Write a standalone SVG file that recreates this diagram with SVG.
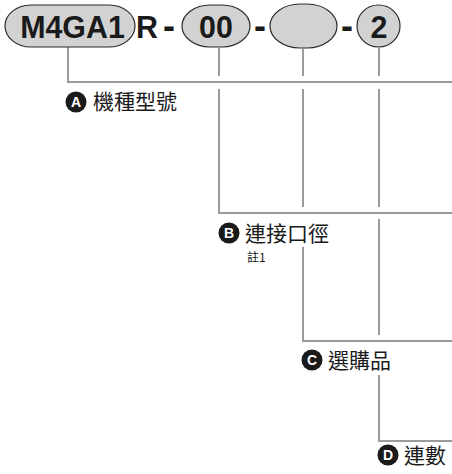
<svg xmlns="http://www.w3.org/2000/svg" width="452" height="474" viewBox="0 0 452 474">
<style>
.pill{fill:#d2d2d2;stroke:#2a2a2a;stroke-width:1.2}
.code{font-family:"Liberation Sans",Arial,sans-serif;font-weight:bold;font-size:32px;fill:#1a1a1a;text-anchor:middle}
.dash{font-family:"Liberation Sans",Arial,sans-serif;font-weight:bold;font-size:36px;fill:#1a1a1a;text-anchor:middle}
.ln{stroke:#9b9b9b;stroke-width:2;fill:none}
.lbl{font-family:"Noto Sans CJK TC","Noto Sans",sans-serif;font-size:21px;fill:#1a1a1a}
.note{font-family:"Noto Sans CJK TC","Noto Sans",sans-serif;font-size:12px;fill:#1a1a1a}
.badge{fill:#1a1a1a}
.bl{font-family:"Liberation Sans",Arial,sans-serif;font-weight:bold;font-size:14px;fill:#fff;text-anchor:middle}
</style>
<g id="connectors">
<path class="ln" d="M68,47 V82 H452"/>
<path class="ln" d="M219,48 V76 M219,89 V213 H452"/>
<path class="ln" d="M303,49 V76 M303,89 V207 M303,247 V341 H452"/>
<path class="ln" d="M379,48 V76 M379,89 V207 M379,219 V335 M379,375 V441 H452"/>
</g>
<g id="code">
<g id="seg-model"><rect class="pill" x="5" y="5" width="130" height="42" rx="26" ry="21"/><text class="code" transform="translate(72.5,37.5) scale(0.95,1)">M4GA1</text></g>
<text class="code" transform="translate(147,37.5) scale(0.95,1)">R</text>
<text class="dash" x="169" y="38">-</text>
<g id="seg-port"><rect class="pill" x="182" y="5" width="68" height="42" rx="28" ry="21"/><text class="code" transform="translate(216,37.5) scale(0.95,1)">00</text></g>
<text class="dash" x="260" y="38">-</text>
<g id="seg-option"><rect class="pill" x="270" y="4" width="67" height="44" rx="30" ry="22"/></g>
<text class="dash" x="347" y="38">-</text>
<g id="seg-count"><ellipse class="pill" cx="378.5" cy="26" rx="21.5" ry="21"/><text class="code" transform="translate(379,37.5) scale(0.95,1)">2</text></g>
</g>
<g id="label-A"><circle class="badge" cx="76" cy="102" r="10.5"/><text class="bl" x="76" y="107">A</text><text class="lbl" x="93" y="109">機種型號</text></g>
<g id="label-B"><circle class="badge" cx="229" cy="233" r="10.5"/><text class="bl" x="229" y="238">B</text><text class="lbl" x="245" y="241">連接口徑</text><text class="note" x="247" y="262">註1</text></g>
<g id="label-C"><circle class="badge" cx="312" cy="360" r="10.5"/><text class="bl" x="312" y="365">C</text><text class="lbl" x="328" y="368">選購品</text></g>
<g id="label-D"><circle class="badge" cx="388" cy="455" r="10.5"/><text class="bl" x="388" y="460">D</text><text class="lbl" x="404" y="463">連數</text></g>
</svg>
